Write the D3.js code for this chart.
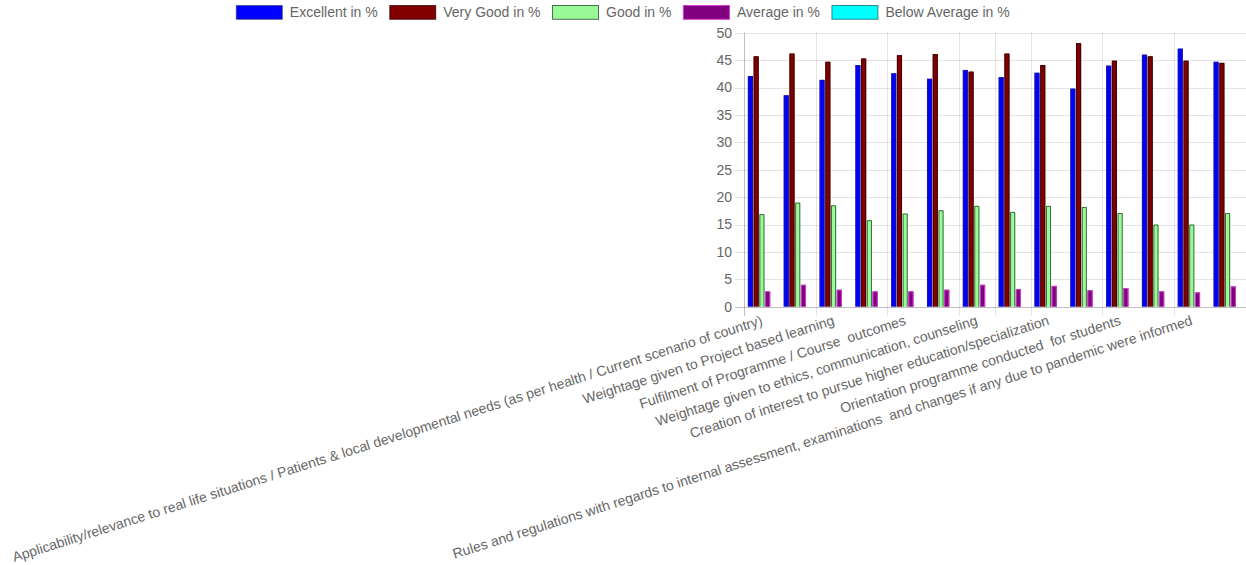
<!DOCTYPE html>
<html>
<head>
<meta charset="utf-8">
<script src="https://cdn.jsdelivr.net/npm/d3@7"></script>
<style>
  html, body { margin: 0; padding: 0; background: #fff; }
  svg { display: block; font-family: "Liberation Sans", Arial, Helvetica, sans-serif; }
  svg text { white-space: pre; }
</style>
</head>
<body>
<svg id="chart" width="1246" height="565"></svg>
<script>
// Feedback categories (only every other label fits on the axis)
const categories = [
  "Applicability/relevance to real life situations / Patients & local developmental needs (as per health / Current scenario of country)",
  "Course content and coverage of the syllabus",
  "Weightage given to Project based learning",
  "Inclusion of recent advances in the curriculum",
  "Fulfilment of Programme / Course  outcomes",
  "Balance between theory and practical sessions",
  "Weightage given to ethics, communication, counseling",
  "Adequacy of learning resources and library",
  "Creation of interest to pursue higher education/specialization",
  "Encouragement of research aptitude",
  "Orientation programme conducted  for students",
  "Availability of value added / elective courses",
  "Rules and regulations with regards to internal assessment, examinations  and changes if any due to pandemic were informed",
  "Overall rating of the curriculum"
];

const seriesNames = ["Excellent in %", "Very Good in %", "Good in %", "Average in %", "Below Average in %"];
const seriesColors = ["#0000ff", "#800000", "#98fb98", "#800080", "#00ffff"];
const seriesBorders = ["rgba(40,40,90,0.55)", "rgba(40,0,0,0.7)", "rgba(30,60,30,0.75)", "#d23cd2", "rgba(0,60,60,0.6)"];

const excellent    = [42.1, 38.6, 41.4, 44.1, 42.6, 41.6, 43.2, 41.9, 42.7, 39.8, 44.0, 46.0, 47.1, 44.7];
const veryGood     = [45.7, 46.2, 44.7, 45.3, 45.9, 46.1, 42.9, 46.2, 44.1, 48.1, 44.9, 45.7, 44.9, 44.5];
const good         = [16.9, 19.0, 18.5, 15.8, 17.0, 17.6, 18.4, 17.3, 18.4, 18.2, 17.1, 15.0, 15.0, 17.1];
const average      = [2.8, 4.0, 3.1, 2.8, 2.8, 3.1, 4.0, 3.2, 3.8, 3.0, 3.4, 2.8, 2.6, 3.7];
const belowAverage = [0, 0, 0, 0, 0, 0, 0, 0, 0, 0, 0, 0, 0, 0];

const seriesValues = [excellent, veryGood, good, average, belowAverage];

const yTicks = [0, 5, 10, 15, 20, 25, 30, 35, 40, 45, 50];
// Categories whose label is shown on the axis
const shownLabels = [0, 2, 4, 6, 8, 10, 12];
// Category boundaries that carry a vertical grid line
const gridAt = [0, 2, 4, 6, 7, 8, 10, 12];

const svg = d3.select("#chart");
const W = 1246;
const FS = 14;
const textColor = "#666";

const plot = { left: 744, right: 1245.5, top: 32.7, bottom: 306.7 };

const x = d3.scaleBand().domain(d3.range(categories.length)).range([plot.left, plot.right]);
const bw = x.bandwidth();
const xi = d3.scaleBand().domain(d3.range(seriesNames.length))
  .range([0.1 * bw, 0.9 * bw]).paddingInner(0.1).paddingOuter(0.05);
const y = d3.scaleLinear().domain([0, 50]).range([plot.bottom, plot.top]);

// Horizontal grid + y axis ticks
const yAxis = d3.axisLeft(y).tickValues(yTicks).tickSize(plot.right - plot.left + 9).tickPadding(3);
const gy = svg.append("g").attr("transform", `translate(${plot.right},0)`).call(yAxis);
gy.select(".domain").remove();
gy.selectAll(".tick line")
  .attr("stroke", d => d === 0 ? "rgba(0,0,0,0.25)" : "rgba(0,0,0,0.1)")
  .attr("shape-rendering", "crispEdges");
gy.selectAll(".tick text")
  .attr("fill", textColor).attr("font-size", FS)
  .attr("font-family", "'Liberation Sans', Arial, sans-serif");

// Vertical grid lines at category boundaries
const vg = svg.append("g");
vg.selectAll("line").data(gridAt).join("line")
  .attr("x1", d => Math.round(x(d)) + 0.5).attr("x2", d => Math.round(x(d)) + 0.5)
  .attr("y1", plot.top).attr("y2", plot.bottom + 9)
  .attr("stroke", d => d === 0 ? "rgba(0,0,0,0.25)" : "rgba(0,0,0,0.1)");

// Bars: filled rect plus a border on top, left and right
const groups = svg.append("g").selectAll("g").data(seriesNames).join("g");
groups.each(function(name, si) {
  const g = d3.select(this);
  const vals = seriesValues[si];
  g.selectAll("rect").data(vals).join("rect")
    .attr("x", (v, i) => x(i) + xi(si))
    .attr("width", xi.bandwidth())
    .attr("y", v => y(v))
    .attr("height", v => y(0) - y(v))
    .attr("fill", seriesColors[si]);
  g.selectAll("path.edge").data(vals.map((v, i) => ({ v, i })).filter(d => d.v > 0)).join("path")
    .attr("class", "edge")
    .attr("d", d => {
      const x0 = x(d.i) + xi(si) + 0.5, x1 = x(d.i) + xi(si) + xi.bandwidth() - 0.5;
      const yt = y(d.v) + 0.5, yb = y(0);
      return `M${x0},${yb}V${yt}H${x1}V${yb}`;
    })
    .attr("fill", "none")
    .attr("stroke", seriesBorders[si])
    .attr("stroke-width", 1);
});

// X labels, rotated
const angle = -17.6;
const xl = svg.append("g");
xl.selectAll("text").data(shownLabels).join("text")
  .attr("transform", i => `translate(${x(i) + bw / 2},${plot.bottom + 13}) rotate(${angle})`)
  .attr("text-anchor", "end")
  .attr("dominant-baseline", "central")
  .attr("fill", textColor)
  .attr("font-size", FS)
  .text(i => categories[i]);

// Legend across the top, centred
const boxW = 46, boxH = 13.8, gap = 7.5, pad = 12;
const leg = svg.append("g");
const items = leg.selectAll("g").data(seriesNames).join("g");
items.append("rect")
  .attr("width", boxW).attr("height", boxH)
  .attr("fill", (d, i) => seriesColors[i])
  .attr("stroke", (d, i) => seriesBorders[i]).attr("stroke-width", 1);
items.append("text")
  .attr("x", boxW + gap).attr("y", boxH / 2)
  .attr("dominant-baseline", "central")
  .attr("fill", textColor).attr("font-size", FS)
  .text(d => d);
const widths = [];
items.each(function() {
  widths.push(boxW + gap + d3.select(this).select("text").node().getComputedTextLength());
});
const total = d3.sum(widths) + pad * (widths.length - 1);
let cx = (W - total) / 2;
items.attr("transform", (d, i) => {
  const t = `translate(${cx},${5.5})`;
  cx += widths[i] + pad;
  return t;
});
</script>
</body>
</html>
